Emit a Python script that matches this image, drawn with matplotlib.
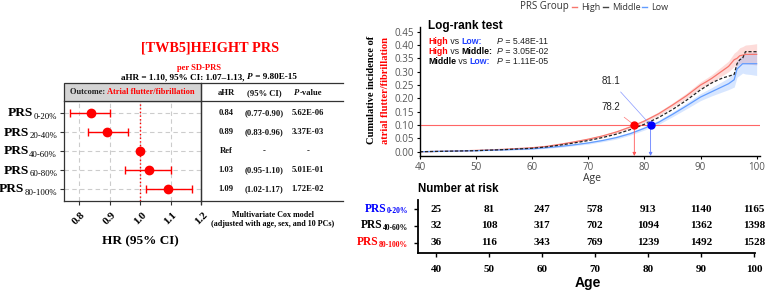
import matplotlib
matplotlib.use('Agg')
import matplotlib.pyplot as plt
import numpy as np
from matplotlib.patches import Rectangle

# ---------------- data ----------------
groups = ['0-20%', '20-40%', '40-60%', '60-80%', '80-100%']
ahr = [0.84, 0.89, 1.00, 1.03, 1.09]
ci_lo = [0.77, 0.83, 1.00, 0.95, 1.02]
ci_hi = [0.90, 0.96, 1.00, 1.10, 1.17]
ahr_txt = ['0.84', '0.89', 'Ref', '1.03', '1.09']
ci_txt = ['(0.77-0.90)', '(0.83-0.96)', '-', '(0.95-1.10)', '(1.02-1.17)']
p_txt = ['5.62E-06', '3.37E-03', '-', '5.01E-01', '1.72E-02']
hr_ticks = [0.8, 0.9, 1.0, 1.1, 1.2]

ages = [40, 45, 50, 55, 60, 62.5, 65, 67.5, 70, 72.5, 75, 77.5, 80, 82.5, 85, 87.5,
        90, 91, 92, 93, 94, 95, 96, 96.5, 97, 97.5, 98, 99, 100]
inc_high = [0, 0.002, 0.005, 0.009, 0.015, 0.020, 0.028, 0.037, 0.047, 0.059, 0.074, 0.093,
            0.115, 0.142, 0.175, 0.210, 0.250, 0.262, 0.275, 0.290, 0.305, 0.320, 0.345,
            0.350, 0.360, 0.362, 0.365, 0.365, 0.365]
inc_mid = [0, 0.002, 0.004, 0.008, 0.013, 0.018, 0.025, 0.033, 0.042, 0.053, 0.066, 0.083,
           0.103, 0.128, 0.158, 0.193, 0.232, 0.245, 0.258, 0.268, 0.277, 0.283, 0.290,
           0.330, 0.345, 0.350, 0.375, 0.375, 0.375]
inc_low = [0, 0.002, 0.004, 0.007, 0.011, 0.015, 0.020, 0.026, 0.033, 0.042, 0.053, 0.068,
           0.088, 0.110, 0.140, 0.172, 0.205, 0.215, 0.225, 0.235, 0.245, 0.255, 0.270,
           0.310, 0.320, 0.330, 0.330, 0.330, 0.330]
ci_half = [0, 0.001, 0.001, 0.001, 0.002, 0.002, 0.003, 0.003, 0.004, 0.004, 0.005, 0.005,
           0.006, 0.007, 0.008, 0.010, 0.012, 0.013, 0.014, 0.016, 0.018, 0.020, 0.025,
           0.028, 0.030, 0.032, 0.035, 0.037, 0.040]
age_high, age_low = 78.2, 81.1
threshold = 0.10

risk_ages = [40, 50, 60, 70, 80, 90, 100]
risk_groups = ['0-20%', '40-60%', '80-100%']
risk_low = [25, 81, 247, 578, 913, 1140, 1165]
risk_mid = [32, 108, 317, 702, 1094, 1362, 1398]
risk_high = [36, 116, 343, 769, 1239, 1492, 1528]

logrank = [('High', 'Low', '5.48E-11'), ('High', 'Middle', '3.05E-02'), ('Middle', 'Low', '1.11E-05')]

# ---------------- layout ----------------
W, H = 769, 291
fig = plt.figure(figsize=(W / 100, H / 100), dpi=100)
SERIF = 'Liberation Serif'
SANS = 'Liberation Sans'
RED = '#ff0000'
BLUE = '#0000ff'
KRED = '#F8766D'
KBLUE = '#619CFF'


def rect(l, t, r, b):
    return [l / W, 1 - b / H, (r - l) / W, (b - t) / H]


ov = fig.add_axes([0, 0, 1, 1], zorder=10)
ov.set_xlim(0, W)
ov.set_ylim(H, 0)
ov.axis('off')
renderer = fig.canvas.get_renderer()


def twidth(t):
    return t.get_window_extent(renderer=renderer).width


def seq_text(x, y, parts, **kw):
    for s, c, extra in parts:
        kk = dict(kw)
        kk.update(extra)
        t = ov.text(x, y, s, color=c, ha='left', va='center', **kk)
        x += twidth(t)
    return x


def centered_seq(xc, y, parts, **kw):
    tot = 0
    for s, c, extra in parts:
        kk = dict(kw)
        kk.update(extra)
        t = ov.text(0, 0, s, **kk)
        tot += twidth(t)
        t.remove()
    seq_text(xc - tot / 2, y, parts, **kw)


# ---------------- forest plot ----------------
fa = fig.add_axes(rect(64, 101, 201, 201))
rows = np.arange(1, len(groups) + 1)
fa.set_xlim(0.75, 1.2)
fa.set_ylim(5.63, 0.37)
for xt in hr_ticks:
    fa.axvline(xt, color='#cccccc', ls=(0, (4, 3)), lw=0.8, zorder=0)
for r in rows:
    fa.axhline(r, color='#cccccc', ls=(0, (4, 3)), lw=0.8, zorder=0)
fa.axvline(1.0, color=RED, ls=':', lw=1, zorder=1)
xerr = [np.array(ahr) - np.array(ci_lo), np.array(ci_hi) - np.array(ahr)]
fa.errorbar(ahr, rows, xerr=xerr, fmt='o', color=RED, ms=6, capsize=3, elinewidth=1,
            capthick=1, zorder=3)
fa.set_xticks(hr_ticks)
fa.set_xticklabels([f'{v:.1f}' for v in hr_ticks], rotation=45, ha='center',
                   fontfamily=SERIF, fontweight='bold', fontsize=8)
fa.set_yticks(rows)
fa.set_yticklabels([])
fa.tick_params(axis='both', length=3, color='#333333', width=0.8)
for s in fa.spines.values():
    s.set_color('#333333')
    s.set_linewidth(0.9)

# header box
ov.add_patch(Rectangle((64, 83), 137, 18, facecolor='#d4d4d4', edgecolor='#333333', lw=0.9))
centered_seq(132.5, 92, [('Outcome: ', '#222222', {}),
                         ('Atrial flutter/fibrillation', RED, {})],
             fontfamily=SERIF, fontweight='bold', fontsize=6)

# y labels
for i, g in enumerate(groups):
    yb = 113 + 19 * i
    ts = ov.text(57, yb + 6, g, fontfamily=SERIF, fontsize=6.3, ha='right', va='baseline',
                 color='black')
    ov.text(57 - twidth(ts), yb + 3.5, 'PRS', fontfamily=SERIF, fontweight='bold', fontsize=9.6,
            ha='right', va='baseline', color='black')

# titles
ov.text(210, 48, '[TWB5]HEIGHT PRS', fontfamily=SERIF, fontweight='bold', fontsize=10.3,
        color=RED, ha='center', va='center')
ov.text(199, 68, 'per SD-PRS', fontfamily=SERIF, fontweight='bold', fontsize=6.1,
        color=RED, ha='center', va='center')
centered_seq(209, 77, [('aHR = 1.10, 95% CI: 1.07–1.13, ', 'black', {}),
                       ('P', 'black', {'fontstyle': 'italic'}),
                       (' = 9.80E-15', 'black', {})],
             fontfamily=SERIF, fontweight='bold', fontsize=6.6)

# table lines
ov.plot([201, 343], [83, 83], color='#333333', lw=0.9)
ov.plot([201, 343], [101, 101], color='#333333', lw=0.9)
ov.plot([201, 343], [201, 201], color='#333333', lw=0.9)
ov.plot([201, 201], [83, 204], color='#333333', lw=0.9)
colx = [226, 264, 308]
tk = dict(fontfamily=SERIF, fontweight='bold', fontsize=6.2, ha='center', va='center', color='#111111')
ov.text(colx[0], 93, 'aHR', **tk)
ov.text(colx[1], 93, '(95% CI)', **tk)
centered_seq(colx[2], 93, [('P', '#111111', {'fontstyle': 'italic'}), ('-value', '#111111', {})],
             fontfamily=SERIF, fontweight='bold', fontsize=6.2)
for i in range(len(groups)):
    yy = 113 + 19 * i
    ov.text(colx[0], yy, ahr_txt[i], **tk)
    ov.text(colx[1], yy, ci_txt[i], **tk)
    ov.text(colx[2], yy, p_txt[i], **tk)
ov.text(273, 215, 'Multivariate Cox model', fontfamily=SERIF, fontweight='bold', fontsize=5.8,
        ha='center', va='center')
ov.text(273, 224, '(adjusted with age, sex, and 10 PCs)', fontfamily=SERIF, fontweight='bold',
        fontsize=5.8, ha='center', va='center')
ov.text(140, 241, 'HR (95% CI)', fontfamily=SERIF, fontweight='bold', fontsize=9.5,
        ha='center', va='center')

# ---------------- KM plot ----------------
ka = fig.add_axes(rect(420, 27, 760, 156))
ka.set_xlim(40, 100.6)
ka.set_ylim(-0.016, 0.4676)
a = np.array(ages)
hw = np.array(ci_half)
ka.fill_between(a, np.array(inc_high) - hw, np.array(inc_high) + hw, color=KRED, alpha=0.25, lw=0)
ka.fill_between(a, np.array(inc_low) - hw * 1.1, np.array(inc_low) + hw * 1.1, color=KBLUE, alpha=0.25, lw=0)
ka.axhline(threshold, color='#ff6666', lw=0.8, zorder=1)
ka.plot(a, inc_high, color=KRED, lw=0.9)
ka.plot(a, inc_low, color=KBLUE, lw=0.9)
ka.plot(a, inc_mid, color='#222222', lw=0.9, ls=(0, (2.5, 1.5)))
for ag, lc in [(age_high, '#ff5555'), (age_low, '#6680ff')]:
    ka.annotate('', xy=(ag, -0.016), xytext=(ag, threshold),
                arrowprops=dict(arrowstyle='-|>', color=lc, lw=0.6, mutation_scale=5,
                                shrinkA=0, shrinkB=0))
ka.annotate(f'{age_high}', xy=(age_high, threshold), xytext=(74.0, 0.168), fontsize=7,
            fontfamily=SANS, color='#222222', ha='center', va='center',
            arrowprops=dict(arrowstyle='-', color='#ff7777', lw=0.5, shrinkA=3, shrinkB=0))
ka.annotate(f'{age_low}', xy=(age_low, threshold), xytext=(74.0, 0.265), fontsize=7,
            fontfamily=SANS, color='#222222', ha='center', va='center',
            arrowprops=dict(arrowstyle='-', color='#8899ff', lw=0.5, shrinkA=3, shrinkB=0))
ka.plot([age_high], [threshold], 'o', color=RED, ms=5, zorder=5)
ka.plot([age_low], [threshold], 'o', color=BLUE, ms=5, zorder=5)
ka.set_xticks([40, 50, 60, 70, 80, 90, 100])
yt = np.round(np.arange(0, 0.46, 0.05), 2)
ka.set_yticks(yt)
ka.set_yticklabels([f'{v:.2f}' for v in yt])
ka.tick_params(labelsize=7, labelcolor='#555555', length=2.5, width=0.8, pad=2)
for lab in ka.get_xticklabels() + ka.get_yticklabels():
    lab.set_fontfamily('Open Sans')
ka.spines['top'].set_visible(False)
ka.spines['right'].set_visible(False)
ka.spines['left'].set_linewidth(1)
ka.spines['bottom'].set_linewidth(1)
ka.set_xlabel('Age', fontsize=7.5, color='#333333', fontfamily='Open Sans', labelpad=1)
ka.xaxis.set_label_coords((592 - 420) / 340, -0.13)

ov.text(428, 26, 'Log-rank test', fontfamily=SANS, fontweight='bold', fontsize=8.5,
        ha='left', va='center')
colmap = {'High': RED, 'Low': '#2040ff', 'Middle': 'black'}
for i, (g1, g2, pv) in enumerate(logrank):
    yy = 41 + 10 * i
    seq_text(428, yy, [(g1, colmap[g1], {'fontweight': 'bold'}), (' vs ', '#222222', {}),
                       (g2 + ':', colmap[g2], {'fontweight': 'bold'})],
             fontfamily=SANS, fontsize=6.3)
    seq_text(497, yy, [('P', '#222222', {'fontstyle': 'italic'}), (' = ' + pv, '#222222', {})],
             fontfamily=SANS, fontsize=6.3)

ov.text(372, 90, 'Cumulative incidence of', fontfamily=SERIF, fontweight='bold', fontsize=7.6,
        rotation=90, ha='center', va='center', color='black')
ov.text(385, 90, 'atrial flutter/fibrillation', fontfamily=SERIF, fontweight='bold', fontsize=7.6,
        rotation=90, ha='center', va='center', color=RED)

# legend
ov.text(520, 7, 'PRS Group', fontfamily='Open Sans', fontsize=7, color='#333333', ha='left', va='center')
for x0, lab, c in [(572, 'High', KRED), (603, 'Middle', '#444444'), (642, 'Low', KBLUE)]:
    ov.plot([x0, x0 + 5], [7, 7], color=c, lw=1)
    ov.text(x0 + 9, 7, lab, fontfamily='Open Sans', fontsize=6.5, color='#333333', ha='left', va='center')

# ---------------- number at risk ----------------
ra = fig.add_axes(rect(418, 200, 755, 253))
ra.set_xlim(36.6, 100.2)
ra.set_ylim(0.38, 3.56)
for yv, vals in [(3, risk_low), (2, risk_mid), (1, risk_high)]:
    for xv, n in zip(risk_ages, vals):
        ra.text(xv, yv, str(n), fontfamily=SERIF, fontweight='bold', fontsize=8,
                ha='center', va='center')
ra.set_xticks(risk_ages)
ra.set_xticklabels([str(v) for v in risk_ages], fontfamily=SERIF, fontweight='bold', fontsize=8)
ra.set_yticks([3, 2, 1])
ra.set_yticklabels([])
ra.tick_params(length=3, width=1, pad=6)
ra.spines['top'].set_visible(False)
ra.spines['right'].set_visible(False)
ra.spines['left'].set_linewidth(1.3)
ra.spines['bottom'].set_linewidth(1.3)
for i, (g, c) in enumerate(zip(risk_groups, [BLUE, 'black', RED])):
    yb = 209.3 + 16.7 * i
    ts = ov.text(408, yb + 4, g, fontfamily=SERIF, fontweight='bold', fontsize=5.5, ha='right',
                 va='baseline', color=c)
    ov.text(408 - twidth(ts), yb + 2.5, 'PRS', fontfamily=SERIF, fontweight='bold', fontsize=8.3,
            ha='right', va='baseline', color=c)
ov.text(418, 189, 'Number at risk', fontfamily=SANS, fontweight='bold', fontsize=8.3,
        ha='left', va='center')
ov.text(588, 283, 'Age', fontfamily=SANS, fontweight='bold', fontsize=10, ha='center', va='center')

fig.savefig('out.png', dpi=100)
